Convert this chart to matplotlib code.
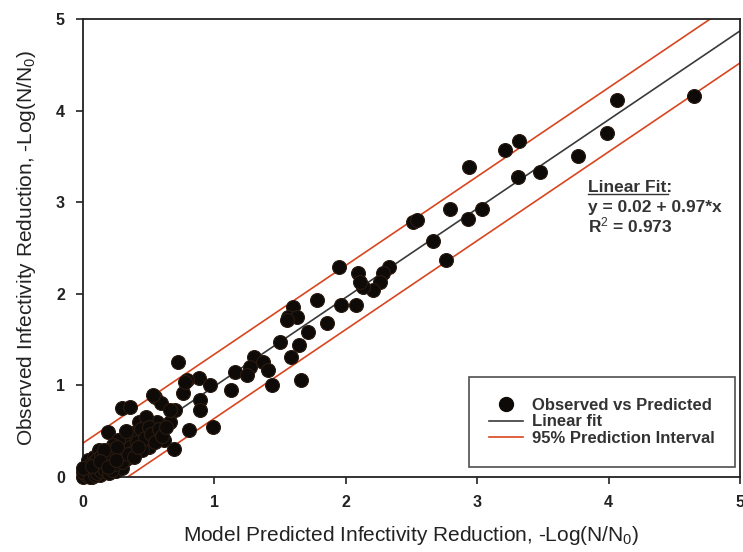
import numpy as np
import matplotlib
matplotlib.use('Agg')
from matplotlib import pyplot as plt
from matplotlib.lines import Line2D

plt.rcParams['font.family'] = ['Liberation Sans', 'DejaVu Sans']
plt.rcParams['mathtext.fontset'] = 'custom'
plt.rcParams['mathtext.rm'] = 'Liberation Sans'
plt.rcParams['mathtext.it'] = 'Liberation Sans:italic'
plt.rcParams['mathtext.bf'] = 'Liberation Sans:bold'

# model predicted (x) vs observed (y)
predicted = [
    4.65, 4.06, 3.99, 3.77, 3.48, 3.32, 3.21, 3.31, 3.04, 2.94, 2.93, 2.79, 2.66, 2.76, 2.51, 2.54,
    1.95, 2.09, 2.33, 2.28, 2.26, 2.21, 2.13, 2.11, 1.78, 1.96, 2.08, 1.86, 1.60, 1.56, 1.63, 1.55,
    1.71, 1.50, 1.64, 1.58, 1.30, 1.37, 1.27, 1.41, 1.16, 1.25, 1.44, 1.13, 1.66,
    0.72, 0.88, 0.79, 0.97, 0.76, 0.89, 0.89, 0.99, 0.81, 0.55, 0.59, 0.70, 0.66, 0.56, 0.30, 0.36,
    0.19, 0.69, 0.62, 0.50, 0.38, 0.43, 0.48, 0.66, 0.53, 0.78,
    0.00, 0.02, 0.03, 0.05, 0.04, 0.06, 0.08, 0.08, 0.10, 0.10, 0.12, 0.12, 0.14, 0.15, 0.16, 0.17,
    0.18, 0.19, 0.20, 0.21, 0.22, 0.23, 0.24, 0.25, 0.26, 0.27, 0.28, 0.29, 0.30, 0.31, 0.32, 0.33,
    0.35, 0.36, 0.38, 0.40, 0.41, 0.44, 0.45, 0.47, 0.50, 0.52, 0.55, 0.58, 0.60, 0.63, 0.27, 0.23,
    0.20, 0.03, 0.01, 0.07, 0.13, 0.33, 0.04, 0.08, 0.12,
    0.00, 0.02, 0.05, 0.09, 0.11, 0.14, 0.17, 0.20, 0.22, 0.24, 0.06, 0.09, 0.11, 0.14, 0.28, 0.30,
    0.34, 0.18, 0.16, 0.26, 0.00, 0.39, 0.42, 0.07, 0.13, 0.19, 0.25,
]
observed = [
    4.16, 4.12, 3.76, 3.50, 3.33, 3.67, 3.57, 3.28, 2.93, 3.38, 2.82, 2.93, 2.58, 2.37, 2.78, 2.81,
    2.29, 2.23, 2.29, 2.23, 2.13, 2.04, 2.07, 2.13, 1.93, 1.88, 1.88, 1.68, 1.86, 1.75, 1.75, 1.71,
    1.58, 1.47, 1.44, 1.31, 1.31, 1.26, 1.20, 1.17, 1.15, 1.11, 1.00, 0.95, 1.06,
    1.26, 1.08, 1.06, 1.00, 0.92, 0.84, 0.73, 0.55, 0.51, 0.87, 0.81, 0.73, 0.60, 0.60, 0.75, 0.76,
    0.49, 0.31, 0.40, 0.33, 0.48, 0.60, 0.66, 0.73, 0.90, 1.04,
    0.00, 0.02, 0.05, 0.03, 0.08, 0.06, 0.04, 0.10, 0.07, 0.12, 0.09, 0.15, 0.11, 0.18, 0.05, 0.13,
    0.20, 0.09, 0.16, 0.24, 0.12, 0.19, 0.28, 0.06, 0.22, 0.15, 0.31, 0.25, 0.10, 0.36, 0.28, 0.20,
    0.42, 0.33, 0.27, 0.45, 0.38, 0.52, 0.30, 0.43, 0.55, 0.47, 0.38, 0.52, 0.45, 0.55, 0.40, 0.35,
    0.30, 0.12, 0.07, 0.00, 0.02, 0.50, 0.18, 0.22, 0.30,
    0.05, 0.10, 0.00, 0.02, 0.04, 0.06, 0.08, 0.04, 0.08, 0.14, 0.14, 0.17, 0.20, 0.23, 0.20, 0.16,
    0.25, 0.26, 0.29, 0.33, 0.10, 0.22, 0.33, 0.12, 0.17, 0.11, 0.18,
]

intercept = 0.02
slope = 0.97
pi_half = 0.35  # half width of the 95% prediction band

fig = plt.figure(figsize=(7.43, 5.52), dpi=100)
ax = fig.add_axes([0.1117, 0.1359, 0.8843, 0.8297])

xs = np.array([0, 5])
fit = intercept + slope * xs
ax.plot(xs, fit + pi_half, color='#d8461f', lw=1.2, zorder=2)
ax.plot(xs, fit - pi_half, color='#d8461f', lw=1.2, zorder=2)
ax.plot(xs, fit, color='#3a3a3a', lw=1.2, zorder=2)
ax.scatter(predicted, observed, s=100, color='#0d0a08', edgecolor='#2a1a10', lw=0.8,
           zorder=3, clip_on=False)

ax.set_xlim(0, 5)
ax.set_ylim(0, 5)
ax.set_xticks([0, 1, 2, 3, 4, 5])
ax.set_yticks([0, 1, 2, 3, 4, 5])
ax.tick_params(direction='out', length=5, width=1.2, labelsize=11.5, pad=8, colors='#222222')
for lab in ax.get_xticklabels() + ax.get_yticklabels():
    lab.set_fontweight('bold')
for sp in ax.spines.values():
    sp.set_linewidth(1.3)
    sp.set_color('#222222')

ax.set_xlabel(r'Model Predicted Infectivity Reduction, -Log(N/N$_0$)', fontsize=15, labelpad=10, color='#222222')
ax.set_ylabel(r'Observed Infectivity Reduction, -Log(N/N$_0$)', fontsize=15, labelpad=13, color='#222222')

ax.text(3.84, 3.11, 'Linear Fit:', fontsize=12.5, fontweight='bold', color='#333333')
ax.plot([3.84, 4.45], [3.09, 3.09], color='#333333', lw=1.0)
ax.text(3.84, 2.89, 'y = 0.02 + 0.97*x', fontsize=12.5, fontweight='bold', color='#333333')
ax.text(3.84, 2.67, r'R$^2$ = 0.973', fontsize=12.5, fontweight='bold', color='#333333')

handles = [
    Line2D([], [], marker='o', ls='none', color='#0d0a08', markersize=10),
    Line2D([], [], color='#3a3a3a', lw=1.2),
    Line2D([], [], color='#d8461f', lw=1.2),
]
leg = ax.legend(handles, ['Observed vs Predicted', 'Linear fit', '95% Prediction Interval'],
                loc='lower right', bbox_to_anchor=(0.993, 0.022), frameon=True,
                fancybox=False, edgecolor='#222222', handlelength=2.0, handletextpad=0.55,
                labelspacing=0.1, borderpad=1.25, borderaxespad=0,
                prop={'weight': 'bold', 'size': 12})
leg.get_frame().set_linewidth(1.2)
for t in leg.get_texts():
    t.set_color('#333333')

fig.savefig('out.png', dpi=100)
